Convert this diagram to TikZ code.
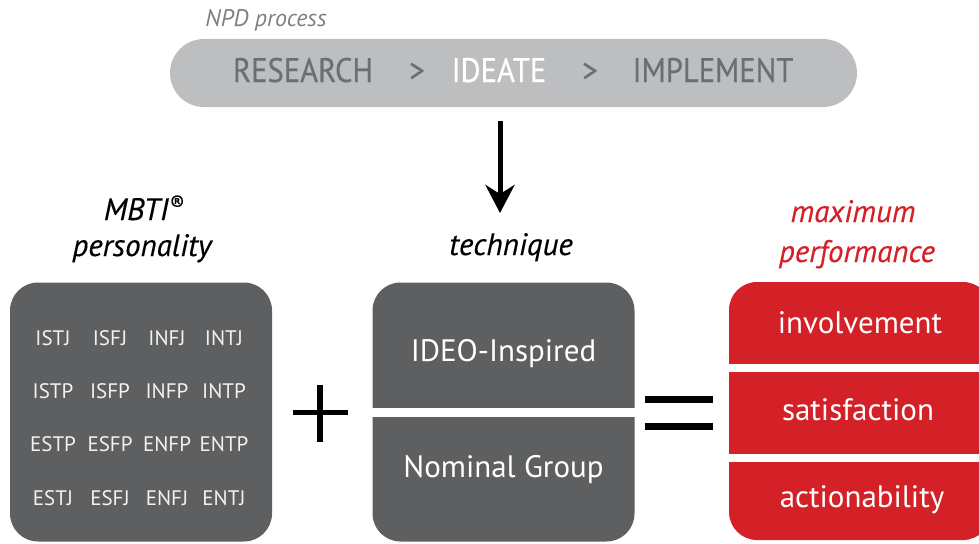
\documentclass[tikz,border=0pt]{standalone}
\usepackage{fontspec}
\setmainfont{PT Sans}
\newfontfamily\stagefont[FakeStretch=0.9,FakeBold=0.4]{PT Sans}
\newfontfamily\headfont[FakeBold=0.3]{PT Sans}
\usetikzlibrary{arrows.meta,positioning}

\definecolor{bargray}{HTML}{BDBEC0}
\definecolor{stagegray}{HTML}{6D6E71}
\definecolor{boxgray}{HTML}{5E5F61}
\definecolor{perfred}{HTML}{D42027}
\definecolor{notegray}{HTML}{7F8083}

\tikzset{
  box/.style={fill=boxgray, rounded corners=28pt, minimum width=262pt, minimum height=259pt, inner sep=0pt},
  redbox/.style={box, fill=perfred, minimum height=258pt},
  heading/.style={anchor=base, font=\headfont\itshape\fontsize{31}{34}\selectfont},
  stage/.style={anchor=base, text=stagegray, font=\stagefont\fontsize{34}{36}\selectfont},
  mbti/.style={anchor=base, text=white!92!boxgray, font=\fontsize{21}{24}\selectfont},
  entry/.style={anchor=base, text=white, font=\fontsize{31}{34}\selectfont},
}

\begin{document}
\begin{tikzpicture}[x=1pt,y=-1pt]
  \clip (0,0) rectangle (979,543);

  % NPD process bar
  \node[fill=bargray, rounded corners=34pt, minimum width=687pt, minimum height=68pt] (npd) at (513.5,73) {};
  \node[anchor=base, text=notegray, font=\itshape\fontsize{24}{26}\selectfont] (npdlabel) at (266,27) {NPD process};
  \node[stage] (research) at (303,82) {RESEARCH};
  \node[stage] (gt1) at (417,82) {>};
  \node[stage, text=white] (ideate) at (499,82) {IDEATE};
  \node[stage] (gt2) at (590,82) {>};
  \node[stage] (implement) at (713,82) {IMPLEMENT};

  \coordinate (arrowtop) at (500,121);
  \coordinate (arrowtip) at (500,213);
  \draw[line width=5pt, -{Stealth[length=28pt, width=29pt, inset=9pt]}] (arrowtop) -- (arrowtip);

  % headings
  \node[heading] (mbtihead) at (144,220) {MBTI\textsuperscript{®}};
  \node[heading] (personality) at (142,256) {personality};
  \node[heading] (technique) at (511,255) {technique};
  \node[heading, text=perfred] (maximum) at (853,222) {maximum};
  \node[heading, text=perfred] (performance) at (857,262) {performance};

  % personality types
  \node[box] (types) at (141,412) {};
  \foreach \types/\y in {{ISTJ,ISFJ,INFJ,INTJ}/345, {ISTP,ISFP,INFP,INTP}/398,
                         {ESTP,ESFP,ENFP,ENTP}/451, {ESTJ,ESFJ,ENFJ,ENTJ}/505}
    \foreach \t [count=\i] in \types
      \node[mbti] (\t) at (53+57*\i-57,\y) {\t};

  \draw[line width=5.5pt] (293,412.5) -- (348,412.5) (320,385) -- (320,442);

  % techniques
  \node[box] (techbox) at (503.5,412) {};
  \fill[white] (372,408) rectangle (635,417);
  \node[entry] (ideo) at (503.5,361) {IDEO-Inspired};
  \node[entry] (nominal) at (503.5,477) {Nominal Group};

  \draw[line width=7pt] (645,399.5) -- (713,399.5) (645,426) -- (713,426);

  % performance
  \node[redbox] (perf) at (860,411) {};
  \fill[white] (729,364) rectangle (979,372);
  \fill[white] (729,454) rectangle (979,462);
  \node[entry] (involvement) at (860,333) {involvement};
  \node[entry] (satisfaction) at (858,420) {satisfaction};
  \node[entry] (actionability) at (862,507) {actionability};
\end{tikzpicture}
\end{document}
